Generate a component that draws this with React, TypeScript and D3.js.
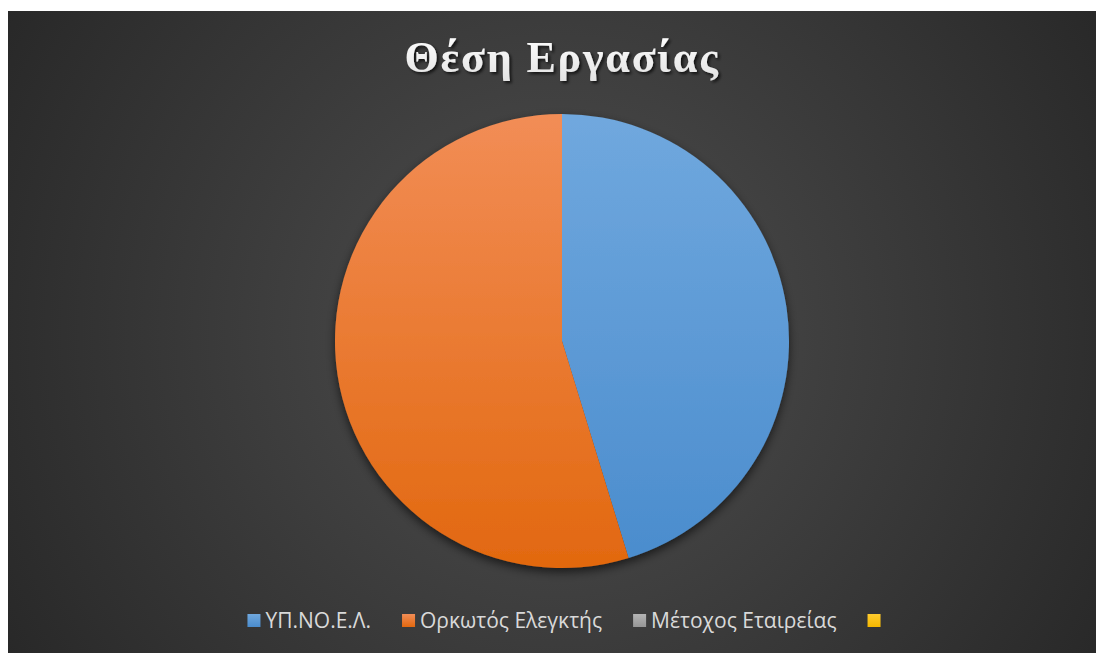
import React, { useEffect, useRef } from 'react'
import * as d3 from 'd3'

const title = 'Θέση Εργασίας'
const categories = ['ΥΠ.ΝΟ.Ε.Λ.', 'Ορκωτός Ελεγκτής', 'Μέτοχος Εταιρείας', '']
const values = [43, 52, 0, 0]
const colors = [
  ['#70a8de', '#4a8ccd'],
  ['#f28d56', '#e2680f'],
  ['#b4b4b4', '#969696'],
  ['#ffcb2e', '#f5b800'],
]

function App() {
  const ref = useRef<SVGSVGElement>(null)

  useEffect(() => {
    const width = 1096, height = 642
    const cx = 554, cy = 330, r = 227

    const svg = d3.select(ref.current)
    svg.selectAll('*').remove()
    svg.attr('width', width).attr('height', height)

    const defs = svg.append('defs')
    const bg = defs.append('radialGradient')
      .attr('id', 'bg')
      .attr('gradientUnits', 'userSpaceOnUse')
      .attr('cx', width / 2).attr('cy', height / 2).attr('r', 640)
    bg.append('stop').attr('offset', 0).attr('stop-color', '#4f4f4f')
    bg.append('stop').attr('offset', 1).attr('stop-color', '#282828')

    // slice gradients in the pie group's own coordinates
    colors.forEach((c, i) => {
      const g = defs.append('linearGradient')
        .attr('id', 'slice' + i)
        .attr('gradientUnits', 'userSpaceOnUse')
        .attr('x1', 0).attr('x2', 0)
        .attr('y1', -r).attr('y2', r)
      g.append('stop').attr('offset', 0).attr('stop-color', c[0])
      g.append('stop').attr('offset', 1).attr('stop-color', c[1])
      const lg = defs.append('linearGradient')
        .attr('id', 'leg' + i)
        .attr('x1', 0).attr('x2', 0).attr('y1', 0).attr('y2', 1)
      lg.append('stop').attr('offset', 0).attr('stop-color', c[0])
      lg.append('stop').attr('offset', 1).attr('stop-color', c[1])
    })

    const shadow = defs.append('filter').attr('id', 'shadow')
      .attr('x', '-20%').attr('y', '-20%').attr('width', '140%').attr('height', '140%')
    shadow.append('feDropShadow')
      .attr('dx', 0).attr('dy', 4).attr('stdDeviation', 5)
      .attr('flood-color', '#000').attr('flood-opacity', 0.6)

    const tshadow = defs.append('filter').attr('id', 'tshadow')
    tshadow.append('feDropShadow')
      .attr('dx', 2).attr('dy', 2).attr('stdDeviation', 1.5)
      .attr('flood-color', '#000').attr('flood-opacity', 0.7)

    const tgrad = defs.append('linearGradient')
      .attr('id', 'tgrad').attr('x1', 0).attr('x2', 0).attr('y1', 0).attr('y2', 1)
    tgrad.append('stop').attr('offset', 0).attr('stop-color', '#ffffff')
    tgrad.append('stop').attr('offset', 1).attr('stop-color', '#e2e2e2')

    svg.append('rect')
      .attr('width', width).attr('height', height)
      .attr('fill', 'url(#bg)')

    // title
    svg.append('text')
      .attr('x', cx).attr('y', 61)
      .attr('text-anchor', 'middle')
      .attr('font-family', '"Liberation Serif", "DejaVu Serif", serif')
      .attr('font-weight', 'bold')
      .attr('font-size', 44)
      .attr('letter-spacing', 1.8)
      .attr('fill', 'url(#tgrad)')
      .attr('filter', 'url(#tshadow)')
      .text(title)

    // pie
    const pie = d3.pie<number>().sort(null).value(d => d)
    const arc = d3.arc<d3.PieArcDatum<number>>().innerRadius(0).outerRadius(r)
    svg.append('g')
      .attr('transform', `translate(${cx}, ${cy})`)
      .attr('filter', 'url(#shadow)')
      .selectAll('path')
      .data(pie(values))
      .join('path')
      .attr('d', arc)
      .attr('fill', (d, i) => `url(#slice${i})`)

    // legend
    const legend = svg.append('g')
    const sq = 13, gapText = 5, gapItem = 31
    let x = 0
    categories.forEach((c, i) => {
      const item = legend.append('g').attr('transform', `translate(${x}, 0)`)
      item.append('rect')
        .attr('x', 0).attr('y', -sq).attr('width', sq).attr('height', sq)
        .attr('fill', `url(#leg${i})`)
      const t = item.append('text')
        .attr('x', sq + gapText).attr('y', 1)
        .attr('font-family', '"Open Sans", sans-serif')
        .attr('font-size', 21)
        .attr('fill', '#d9d9d9')
        .text(c)
      const w = (t.node() as SVGTextElement).getComputedTextLength()
      x += sq + gapText + w + gapItem
    })
    const total = x - gapItem - gapText
    legend.attr('transform', `translate(${width / 2 + 8 - total / 2}, ${616})`)
  }, [])

  return (
    <svg ref={ref} style={{ display: 'block', marginTop: 3 }} />
  )
}

export default App
